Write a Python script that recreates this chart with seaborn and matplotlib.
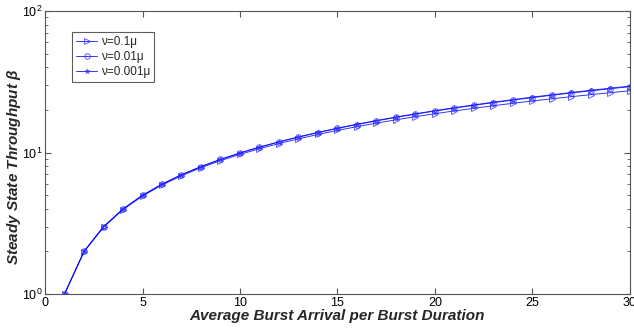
import numpy as np
import pandas as pd
import seaborn as sns
import matplotlib.pyplot as plt
from matplotlib.ticker import LogLocator, FixedLocator

# arrival rate (bursts per burst duration)
x = list(range(1, 31))

# steady state throughput
thr_01 = [1.00, 1.99, 2.97, 3.95, 4.93, 5.89, 6.85, 7.81, 8.76, 9.70,
          10.64, 11.57, 12.49, 13.41, 14.33, 15.23, 16.13, 17.03, 17.92, 18.80,
          19.68, 20.55, 21.41, 22.27, 23.13, 23.97, 24.81, 25.65, 26.48, 27.30]
thr_001 = [1.00, 2.00, 2.99, 3.99, 4.98, 5.97, 6.96, 7.94, 8.93, 9.91,
           10.89, 11.87, 12.85, 13.82, 14.80, 15.77, 16.74, 17.71, 18.68, 19.64,
           20.60, 21.56, 22.52, 23.48, 24.44, 25.39, 26.34, 27.29, 28.24, 29.19]
thr_0001 = [1.00, 2.00, 2.99, 3.99, 4.99, 5.98, 6.97, 7.96, 8.95, 9.94,
            10.93, 11.91, 12.90, 13.88, 14.87, 15.85, 16.83, 17.81, 18.78, 19.76,
            20.74, 21.71, 22.68, 23.65, 24.63, 25.59, 26.56, 27.53, 28.50, 29.46]

labels = ['ν=0.1μ', 'ν=0.01μ', 'ν=0.001μ']

sns.set_style('ticks')
plt.rcParams['font.family'] = ['Liberation Sans', 'DejaVu Sans']
plt.rcParams['mathtext.fontset'] = 'custom'
plt.rcParams['mathtext.it'] = 'Liberation Sans:italic:bold'

fig = plt.figure(figsize=(6.34, 3.33), dpi=100)
ax = fig.add_axes([0.071, 0.117, 0.9226, 0.85])

series = [(thr_01, '>', 5), (thr_001, 'o', 4), (thr_0001, '*', 3.5)]
for (y, m, ms), lab in zip(series, labels):
    df = pd.DataFrame({'x': x, 'y': y})
    sns.lineplot(data=df, x='x', y='y', ax=ax, color='#0000ff', marker=m,
                 markersize=ms, markerfacecolor='none', markeredgecolor='#3333ff',
                 markeredgewidth=0.7, linewidth=0.7, alpha=0.8, label=lab)

ax.set_yscale('log')
ax.set_xlim(0, 30)
ax.set_ylim(1, 100)
ax.xaxis.set_major_locator(FixedLocator([0, 5, 10, 15, 20, 25, 30]))
ax.yaxis.set_major_locator(LogLocator(base=10, numticks=5))
ax.tick_params(direction='in', which='both', top=True, right=True,
               labelsize=9, colors='#555555', labelcolor='black', pad=2)
ax.tick_params(which='major', length=4)
ax.tick_params(which='minor', length=2)
for s in ax.spines.values():
    s.set_color('#555555')
    s.set_linewidth(0.8)

ax.set_xlabel('Average Burst Arrival per Burst Duration', fontsize=11,
              fontweight='bold', fontstyle='italic', labelpad=0)
ax.set_ylabel('Steady State Throughput $\\beta$', fontsize=11,
              fontweight='bold', fontstyle='italic')
ax.yaxis.set_label_coords(-0.038, 0.45)

leg = ax.legend(loc='upper left', bbox_to_anchor=(0.046, 0.925), fontsize=8.5,
                frameon=True, fancybox=False, handlelength=1.8, borderaxespad=0,
                borderpad=0.35, labelspacing=0.25, handletextpad=0.3)
leg.get_frame().set_edgecolor('#333333')
leg.get_frame().set_linewidth(0.8)

fig.savefig('out.png', dpi=100)
